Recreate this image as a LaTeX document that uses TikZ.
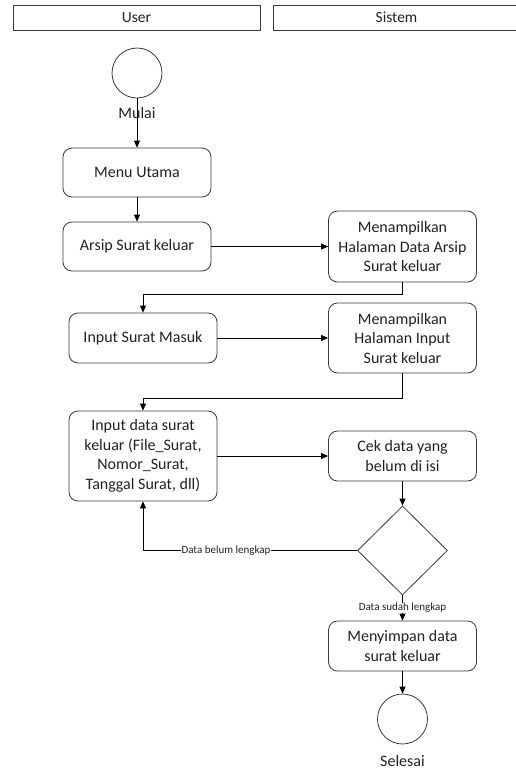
\documentclass[tikz,border=0pt]{standalone}
\usepackage{fontspec}
\setmainfont{Carlito}
\usetikzlibrary{arrows.meta,shapes.geometric}
\definecolor{edge}{HTML}{3A3A3A}
\definecolor{ink}{HTML}{222222}
\tikzset{
  lane/.style={draw=edge, line width=0.8pt, minimum width=247pt, minimum height=25pt, inner sep=0pt, font=\fontsize{15.5}{18}\selectfont, text=ink},
  act/.style={draw=edge, line width=0.8pt, rounded corners=9pt, minimum width=148pt, align=center, inner sep=0pt, font=\fontsize{16}{19.5}\selectfont, text=ink},
  terminal/.style={draw=edge, line width=0.8pt, circle, minimum size=50pt, inner sep=0pt},
  decision/.style={draw=edge, line width=0.8pt, diamond, minimum width=90pt, minimum height=89pt, inner sep=0pt},
  caption/.style={font=\fontsize{16}{19}\selectfont, text=ink, inner sep=0pt},
  guard/.style={font=\fontsize{11}{12}\selectfont, text=ink, fill=white, inner sep=0.5pt},
  flow/.style={draw=black, line width=0.8pt, -{Triangle[length=7pt,width=6pt]}},
  plain/.style={draw=black, line width=0.8pt}
}
\begin{document}
\begin{tikzpicture}[x=1pt,y=-1pt]
\useasboundingbox (0,0) rectangle (516,769);
\fill[white] (0,0) rectangle (516,769);

% swimlane headers
\node[lane] (user) at (136.5,17.5) {User};
\node[lane] (sistem) at (396.5,17.5) {Sistem};

% start
\node[terminal] (start) at (137,73) {};
\node[caption] (mulai) at (137,113) {Mulai};

% activities
\node[act, minimum height=49pt] (menu) at (137,172.5) {Menu Utama};
\node[act, minimum height=49pt] (arsip) at (137,246.5) {Arsip Surat keluar};
\node[act, minimum height=71pt] (tampil1) at (402.5,246.5) {Menampilkan\\Halaman Data Arsip\\Surat keluar};
\node[act, minimum height=50pt] (inputsm) at (143,338) {Input Surat Masuk};
\node[act, minimum height=70pt] (tampil2) at (402.5,338) {Menampilkan\\Halaman Input\\Surat keluar};
\node[act, minimum height=90pt] (inputdata) at (143,456) {Input data surat\\keluar (File\_Surat,\\Nomor\_Surat,\\Tanggal Surat, dll)};
\node[act, minimum height=50pt] (cek) at (402.5,456) {Cek data yang\\belum di isi};
\node[decision] (dec) at (402.5,550.5) {};
\node[act, minimum height=50pt] (simpan) at (402.5,646) {Menyimpan data\\surat keluar};

% end
\node[terminal] (end) at (402.5,719) {};
\node[caption] (selesai) at (402.5,761) {Selesai};

% connectors
\draw[flow] (start.south) -- (menu.north);
\draw[flow] (menu.south) -- (arsip.north);
\draw[flow] (arsip.east) -- (tampil1.west);
\draw[flow] (tampil1.south) -- ++(0,12) -| (inputsm.north);
\draw[flow] (inputsm.east) -- (tampil2.west);
\draw[flow] (tampil2.south) -- ++(0,25) -| (inputdata.north);
\draw[flow] (inputdata.east) -- (cek.west);
\draw[flow] (cek.south) -- (dec.north);
\draw[flow] (dec.west) -| (inputdata.south);
\node[guard] (belum) at (226,550.5) {Data belum lengkap};
\draw[flow] (dec.south) -- (simpan.north);
\node[guard] (sudah) at (402.5,608) {Data sudah lengkap};
\draw[flow] (simpan.south) -- (end.north);
\end{tikzpicture}
\end{document}
